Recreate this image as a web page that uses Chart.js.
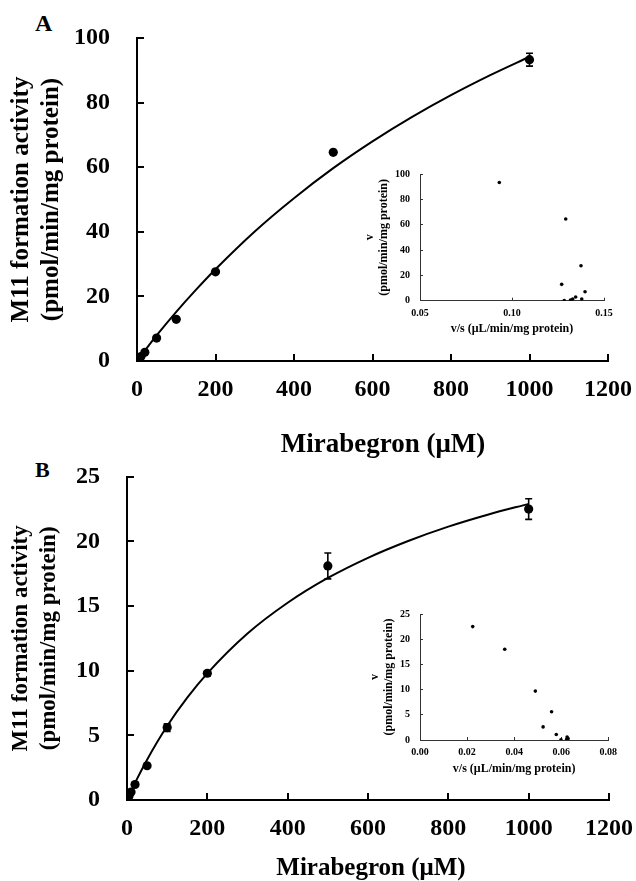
<!DOCTYPE html>
<html><head><meta charset="utf-8">
<script src="https://cdn.jsdelivr.net/npm/chart.js@4.4.1/dist/chart.umd.min.js"></script>
<style>
html,body{margin:0;padding:0;background:#fff;}
body{width:636px;height:881px;position:relative;overflow:hidden;font-family:'Liberation Serif','Times New Roman',serif;}
canvas{position:absolute;display:block;}
.lbl{position:absolute;font-weight:bold;line-height:1;color:#000;white-space:nowrap;}
.xt{width:636px;text-align:center;}
</style></head><body>
<div class="lbl" style="left:35px;top:11px;font-size:24px">A</div>
<div class="lbl" style="left:35px;top:459px;font-size:22px">B</div>
<canvas id="mainA" width="636" height="460" style="left:0;top:0"></canvas>
<canvas id="insetA" width="270" height="180" style="left:355px;top:160px"></canvas>
<canvas id="mainB" width="636" height="441" style="left:0;top:440px"></canvas>
<canvas id="insetB" width="270" height="180" style="left:360px;top:600px"></canvas>
<div class="lbl xt" id="xtA" style="left:65px;top:430px;font-size:27px"></div>
<div class="lbl xt" id="xtB" style="left:53px;top:854px;font-size:25px"></div>
<script>
// ---------- data ----------
const concA = [1, 2, 5, 10, 20, 50, 100, 200, 500, 1000];
const velA  = [0.13, 0.26, 0.67, 1.38, 2.7, 7.1, 12.9, 27.6, 64.6, 93.3];
const errA  = [0, 0, 0, 0, 0, 0, 0, 0, 0, 2.0];
const curveAx = [0, 25, 50, 100, 150, 200, 300, 400, 500, 600, 700, 800, 900, 1000];
const curveAy = [0, 4.0, 7.9, 15.2, 22.0, 28.4, 40.1, 50.4, 59.7, 68.0, 75.5, 82.3, 88.5, 94.2];
const insetAx = [0.1284, 0.1318, 0.1330, 0.1379, 0.1346, 0.1397, 0.1270, 0.1375, 0.1292, 0.0931];
const insetAy = [0.13, 0.5, 1.3, 1.4, 2.9, 7.1, 12.9, 27.6, 64.5, 93.3];

const concB = [1, 2, 5, 10, 20, 50, 100, 200, 500, 1000];
const velB  = [0.06, 0.125, 0.31, 0.62, 1.2, 2.65, 5.6, 9.8, 18.1, 22.5];
const errB  = [0, 0, 0, 0, 0, 0, 0.3, 0.2, 1.0, 0.8];
const curveBx = [0, 25, 50, 100, 150, 200, 300, 400, 500, 600, 700, 800, 900, 1000];
const curveBy = [0, 1.63, 3.12, 5.72, 7.91, 9.79, 12.87, 15.25, 17.17, 18.73, 20.03, 21.14, 22.08, 22.9];
const insetBx = [0.0599, 0.0623, 0.0629, 0.0625, 0.0579, 0.0523, 0.0559, 0.0490, 0.0360, 0.0224];
const insetBy = [0.06, 0.13, 0.31, 0.6, 1.1, 2.6, 5.6, 9.7, 18.0, 22.5];

const xTicksMain = [0, 1200, 200];      // min, max, step
const yTicksA = [0, 100, 20];
const yTicksB = [0, 25, 5];
const xTicksInsetA = [0.05, 0.15, 0.05];
const yTicksInsetA = [0, 100, 20];
const xTicksInsetB = [0, 0.08, 0.02];
const yTicksInsetB = [0, 25, 5];

const xTitleMain = 'Mirabegron (μM)';
const yTitleMain = ['M11 formation activity', '(pmol/min/mg protein)'];
const xTitleInset = 'v/s (μL/min/mg protein)';
const yTitleInset = ['v', '(pmol/min/mg protein)'];

document.getElementById('xtA').textContent = xTitleMain;
document.getElementById('xtB').textContent = xTitleMain;

// ---------- rendering ----------
const F = "'Liberation Serif', 'Times New Roman', serif";
const pts = (xs, ys) => xs.map((x, i) => ({x: x, y: ys[i]}));

const errorBars = {
  id: 'errorBars',
  afterDatasetsDraw(chart) {
    const ctx = chart.ctx, xs = chart.scales.x, ys = chart.scales.y;
    chart.data.datasets.forEach(ds => {
      if (!ds.errors) return;
      ctx.save();
      ctx.strokeStyle = '#000';
      ctx.lineWidth = 1.6;
      ds.data.forEach((p, j) => {
        const e = ds.errors[j];
        if (!e) return;
        const px = xs.getPixelForValue(p.x);
        const t = ys.getPixelForValue(p.y + e), b = ys.getPixelForValue(p.y - e);
        ctx.beginPath();
        ctx.moveTo(px, t); ctx.lineTo(px, b);
        ctx.moveTo(px - 3.5, t); ctx.lineTo(px + 3.5, t);
        ctx.moveTo(px - 3.5, b); ctx.lineTo(px + 3.5, b);
        ctx.stroke();
      });
      ctx.restore();
    });
  }
};

function scale(rng, o) {
  return {
    type: 'linear', min: rng[0], max: rng[1],
    ticks: {
      stepSize: rng[2], color: '#000', padding: o.tickPad, maxRotation: 0, autoSkip: false,
      font: {family: F, size: o.tickSize, weight: 'bold', lineHeight: 1.2},
      callback: o.fmt || (v => String(v))
    },
    grid: {drawOnChartArea: false, drawTicks: true, tickLength: o.tl, color: o.col, lineWidth: o.lw},
    border: {display: true, color: o.col, width: o.lw},
    title: {
      display: !!o.title, text: o.title || '', color: '#000',
      font: {family: F, size: o.titleSize || 12, weight: 'bold', lineHeight: o.titleLH || 1.2},
      padding: o.titlePad || 0
    },
    afterFit: s => {
      if (s.isHorizontal()) s.height = o.size; else s.width = o.size;
      s.paddingTop = 0; s.paddingBottom = 0; s.paddingLeft = 0; s.paddingRight = 0;
    }
  };
}

function makeChart(id, cfg) {
  const datasets = [];
  if (cfg.curve) {
    datasets.push({
      data: cfg.curve, showLine: true, borderColor: '#000', borderWidth: 2,
      pointRadius: 0, cubicInterpolationMode: 'monotone', fill: false
    });
  }
  datasets.push({
    data: cfg.points, showLine: false, pointRadius: cfg.r, pointHoverRadius: cfg.r,
    backgroundColor: '#000', borderColor: '#000', borderWidth: 0, errors: cfg.errors
  });
  return new Chart(document.getElementById(id), {
    type: 'scatter',
    data: {datasets},
    options: {
      responsive: false, animation: false, devicePixelRatio: 1, events: [],
      layout: {padding: cfg.pad},
      plugins: {legend: {display: false}, tooltip: {enabled: false}},
      scales: {x: cfg.x, y: cfg.y}
    },
    plugins: [errorBars]
  });
}

// Panel A main
makeChart('mainA', {
  curve: pts(curveAx, curveAy), points: pts(concA, velA), errors: errA, r: 4.6,
  pad: {left: 0, top: 38, right: 28, bottom: 0},
  x: scale(xTicksMain, {tickPad: 21.6, tickSize: 24, tl: -7, col: '#000', lw: 2, size: 99}),
  y: scale(yTicksA, {tickPad: 34, tickSize: 24, tl: -7, col: '#000', lw: 2, size: 137,
    title: yTitleMain, titleSize: 25, titleLH: '30px', titlePad: {top: 7, bottom: 0}})
});

// Panel A inset
makeChart('insetA', {
  points: pts(insetAx, insetAy), r: 1.8,
  pad: {left: 0, top: 14, right: 21, bottom: 0},
  x: scale(xTicksInsetA, {tickPad: 9.3, tickSize: 10, tl: -3, col: '#333', lw: 1, size: 39.3,
    fmt: v => v.toFixed(2),
    title: xTitleInset, titleSize: 12, titleLH: '14px', titlePad: {top: 0, bottom: 4}}),
  y: scale(yTicksInsetA, {tickPad: 13, tickSize: 10, tl: -3, col: '#333', lw: 1, size: 65,
    title: yTitleInset, titleSize: 12, titleLH: '14px', titlePad: {top: 8, bottom: 0}})
});

// Panel B main
makeChart('mainB', {
  curve: pts(curveBx, curveBy), points: pts(concB, velB), errors: errB, r: 4.6,
  pad: {left: 0, top: 36.7, right: 27, bottom: 0},
  x: scale(xTicksMain, {tickPad: 21.6, tickSize: 24, tl: -7, col: '#000', lw: 2, size: 81}),
  y: scale(yTicksB, {tickPad: 34, tickSize: 24, tl: -7, col: '#000', lw: 2, size: 127,
    title: yTitleMain, titleSize: 23, titleLH: '28px', titlePad: {top: 7, bottom: 0}})
});

// Panel B inset
makeChart('insetB', {
  points: pts(insetBx, insetBy), r: 1.8,
  pad: {left: 0, top: 14, right: 21.7, bottom: 0},
  x: scale(xTicksInsetB, {tickPad: 9.7, tickSize: 10, tl: -3, col: '#333', lw: 1, size: 40,
    fmt: v => v.toFixed(2),
    title: xTitleInset, titleSize: 12, titleLH: '14px', titlePad: {top: 0, bottom: 3.7}}),
  y: scale(yTicksInsetB, {tickPad: 13, tickSize: 10, tl: -3, col: '#333', lw: 1, size: 60,
    title: yTitleInset, titleSize: 12, titleLH: '14px', titlePad: {top: 8, bottom: 0}})
});
</script>
</body></html>
